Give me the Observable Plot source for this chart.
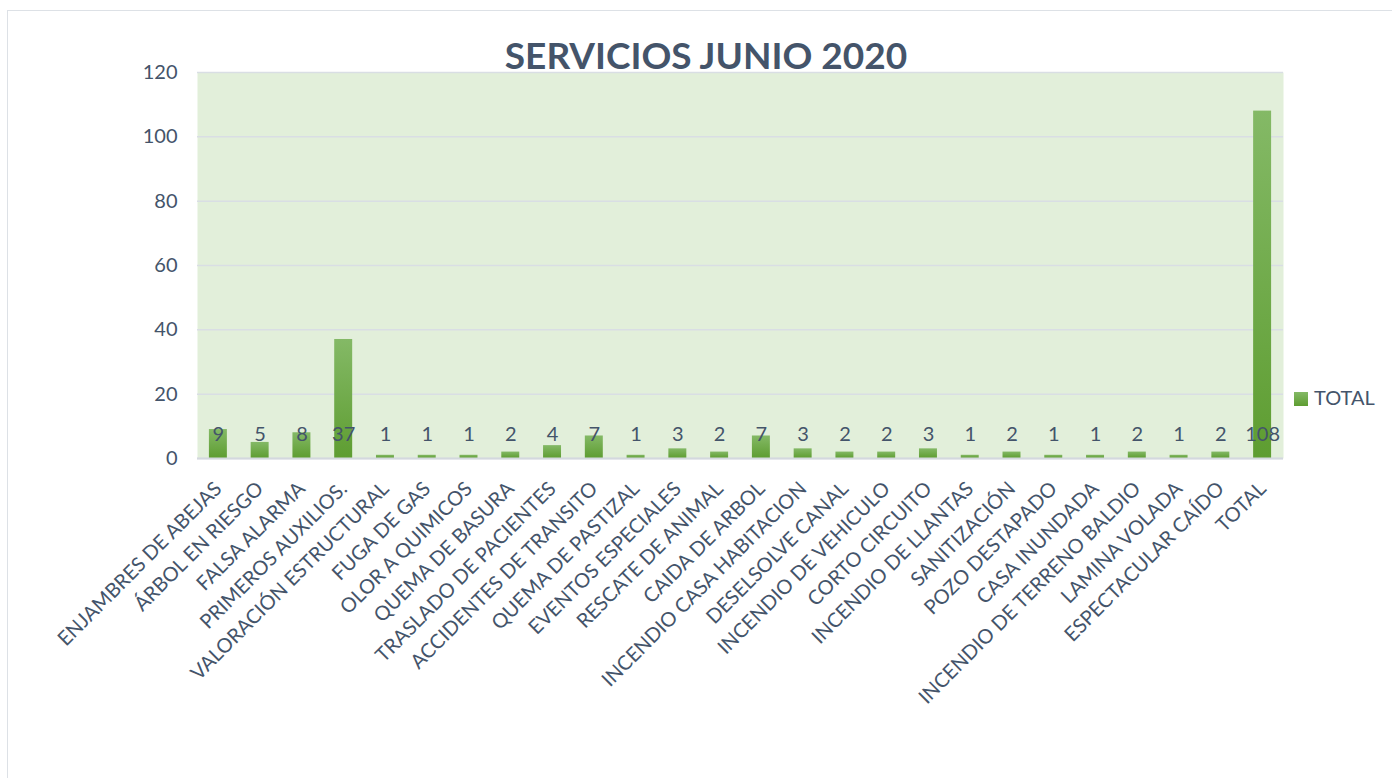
<!DOCTYPE html>
<html>
<head>
<meta charset="utf-8">
<script src="https://cdn.jsdelivr.net/npm/d3@7"></script>
<script src="https://cdn.jsdelivr.net/npm/@observablehq/plot@0.6"></script>
<style>
  html, body { margin: 0; padding: 0; background: #ffffff; overflow: hidden; }
  #wrap { position: relative; width: 1392px; height: 778px; font-family: Lato, "Open Sans", sans-serif; }
  #border { position: absolute; left: 7px; top: 10px; width: 1420px; height: 820px; border: 1.5px solid #dde1e6; box-sizing: border-box; }
  #title { position: absolute; left: 0; width: 1412px; top: 36px; text-align: center; font-size: 37px; font-weight: 700; line-height: 1; color: #44546a; white-space: nowrap; }
  #legend { position: absolute; left: 1294px; top: 387px; font-size: 20px; line-height: 1; color: #44546a; white-space: nowrap; }
  #legend .sw { display: inline-block; width: 14px; height: 14px; margin-right: 6px; vertical-align: -1px; background: linear-gradient(#84b966, #5e9d31); }
  #chart { position: absolute; left: 0; top: 0; }
</style>
</head>
<body>
<div id="wrap">
  <div id="border"></div>
  <div id="chart"></div>
  <div id="title">SERVICIOS JUNIO 2020</div>
  <div id="legend"><span class="sw"></span>TOTAL</div>
</div>
<script>
const categories = [
  "ENJAMBRES DE ABEJAS", "ÁRBOL EN RIESGO", "FALSA ALARMA", "PRIMEROS AUXILIOS.",
  "VALORACIÓN ESTRUCTURAL", "FUGA DE GAS", "OLOR A QUIMICOS", "QUEMA DE BASURA",
  "TRASLADO DE PACIENTES", "ACCIDENTES DE TRANSITO", "QUEMA DE PASTIZAL", "EVENTOS ESPECIALES",
  "RESCATE DE ANIMAL", "CAIDA DE ARBOL", "INCENDIO CASA HABITACION", "DESELSOLVE CANAL",
  "INCENDIO DE VEHICULO", "CORTO CIRCUITO", "INCENDIO DE LLANTAS", "SANITIZACIÓN",
  "POZO DESTAPADO", "CASA INUNDADA", "INCENDIO DE TERRENO BALDIO", "LAMINA VOLADA",
  "ESPECTACULAR CAÍDO", "TOTAL"
];
const values = [9, 5, 8, 37, 1, 1, 1, 2, 4, 7, 1, 3, 2, 7, 3, 2, 2, 3, 1, 2, 1, 1, 2, 1, 2, 108];
const yTicks = [0, 20, 40, 60, 80, 100, 120];
const seriesName = "TOTAL";

const data = categories.map((c, i) => ({cat: c, value: values[i]}));

const textColor = "#44546a";
const barInset = 11.9;

const chart = Plot.plot({
  width: 1392,
  height: 778,
  marginLeft: 197,
  marginRight: 109,
  marginTop: 72,
  marginBottom: 320,
  style: {fontFamily: "Lato, 'Open Sans', sans-serif", color: textColor, background: "transparent", overflow: "visible"},
  x: {domain: categories, padding: 0, round: false, label: null},
  y: {domain: [0, 120], label: null},
  marks: [
    Plot.frame({fill: "#e2efda", stroke: null}),
    Plot.gridY(yTicks, {stroke: "#d9dee4", strokeOpacity: 1, strokeWidth: 1.5}),
    Plot.barY(data, {x: "cat", y: "value", fill: "url(#barGrad)", insetLeft: barInset, insetRight: barInset}),
    Plot.ruleY([0], {stroke: "#d3d8de", strokeWidth: 2}),
    Plot.text(data, {x: "cat", y: 0, text: d => String(d.value), dy: -18, lineAnchor: "bottom", fontSize: 20, fill: textColor}),
    Plot.axisY(yTicks, {tickSize: 0, tickPadding: 20, fontSize: 20, label: null}),
    Plot.axisX({tickRotate: -45, tickSize: 0, tickPadding: 27, fontSize: 20, label: null})
  ]
});

const ns = "http://www.w3.org/2000/svg";
const defs = document.createElementNS(ns, "defs");
const grad = document.createElementNS(ns, "linearGradient");
grad.setAttribute("id", "barGrad");
grad.setAttribute("x1", "0"); grad.setAttribute("y1", "0");
grad.setAttribute("x2", "0"); grad.setAttribute("y2", "1");
[["0%", "#84b966"], ["100%", "#5e9d31"]].forEach(([o, c]) => {
  const s = document.createElementNS(ns, "stop");
  s.setAttribute("offset", o);
  s.setAttribute("stop-color", c);
  grad.appendChild(s);
});
defs.appendChild(grad);
chart.insertBefore(defs, chart.firstChild);

document.getElementById("chart").appendChild(chart);
</script>
</body>
</html>
